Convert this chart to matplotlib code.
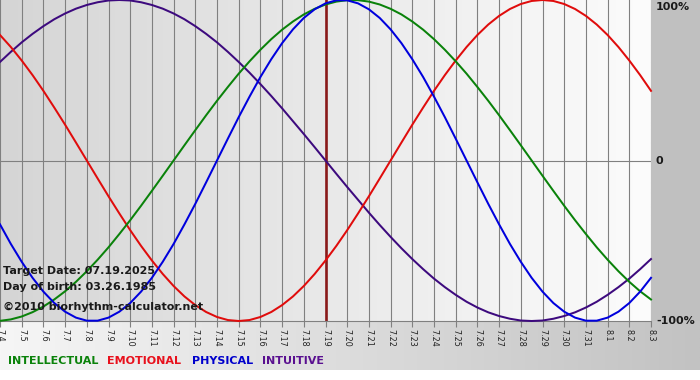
#!/usr/bin/env python3
import numpy as np
import matplotlib
matplotlib.use('Agg')
from matplotlib import pyplot as plt
from matplotlib.colors import LinearSegmentedColormap

# day labels 7.4 .. 8.3
days = ['7.4', '7.5', '7.6', '7.7', '7.8', '7.9', '7.10', '7.11', '7.12', '7.13',
        '7.14', '7.15', '7.16', '7.17', '7.18', '7.19', '7.20', '7.21', '7.22', '7.23',
        '7.24', '7.25', '7.26', '7.27', '7.28', '7.29', '7.30', '7.31', '8.1', '8.2', '8.3']

# values in percent, read every half day from 7.4 to 8.3
intellectual = [-99.9, -99.0, -97.2, -94.5, -91.0, -86.6, -81.5, -75.6, -69.0, -61.8, -54.1,
                -45.8, -37.2, -28.2, -18.9, -9.5, 0,
                9.5, 18.9, 28.2, 37.2, 45.8, 54.1, 61.8, 69.0, 75.6, 81.5, 86.6, 91.0, 94.5,
                97.2, 99.0, 99.9, 99.9, 99.0, 97.2, 94.5, 91.0, 86.6, 81.5, 75.6, 69.0, 61.8,
                54.1, 45.8, 37.2, 28.2, 18.9, 9.5, 0,
                -9.5, -18.9, -28.2, -37.2, -45.8, -54.1, -61.8, -69.0, -75.6, -81.5, -86.6]
emotional = [78.2, 70.7, 62.3, 53.2, 43.4, 33.0, 22.3, 11.2, 0, -11.2, -22.3, -33.0, -43.4,
             -53.2, -62.3, -70.7, -78.2, -84.7, -90.1, -94.4, -97.5, -99.4, -100, -99.4, -97.5,
             -94.4, -90.1, -84.7, -78.2, -70.7, -62.3, -53.2, -43.4, -33.0, -22.3, -11.2, 0,
             11.2, 22.3, 33.0, 43.4, 53.2, 62.3, 70.7, 78.2, 84.7, 90.1, 94.4, 97.5, 99.4, 100,
             99.4, 97.5, 94.4, 90.1, 84.7, 78.2, 70.7, 62.3, 53.2, 43.4]
physical = [-39.8, -52.0, -63.1, -73.1, -81.7, -88.8, -94.2, -97.9, -99.8, -99.8, -97.9,
            -94.2, -88.8, -81.7, -73.1, -63.1, -52.0, -39.8, -27.0, -13.6, 0,
            13.6, 27.0, 39.8, 52.0, 63.1, 73.1, 81.7, 88.8, 94.2, 97.9, 99.8, 99.8, 97.9,
            94.2, 88.8, 81.7, 73.1, 63.1, 52.0, 39.8, 27.0, 13.6, 0, -13.6, -27.0, -39.8,
            -52.0, -63.1, -73.1, -81.7, -88.8, -94.2, -97.9, -99.8, -99.8, -97.9, -94.2,
            -88.8, -81.7, -73.1]
intuitive = [61.4, 67.7, 73.6, 78.9, 83.7, 88.0, 91.6, 94.6, 96.9, 98.6, 99.7, 100, 99.7,
             98.6, 96.9, 94.6, 91.6, 88.0, 83.7, 78.9, 73.6, 67.7, 61.4, 54.7, 47.6, 40.2,
             32.5, 24.5, 16.5, 8.3, 0,
             -8.3, -16.5, -24.5, -32.5, -40.2, -47.6, -54.7, -61.4, -67.7, -73.6, -78.9,
             -83.7, -88.0, -91.6, -94.6, -96.9, -98.6, -99.7, -100, -99.7, -98.6, -96.9,
             -94.6, -91.6, -88.0, -83.7, -78.9, -73.6, -67.7, -61.4]

target_day = '7.19'
target_text = 'Target Date: 07.19.2025'
birth_text = 'Day of birth: 03.26.1985'
site_text = '\u00a92010 biorhythm-calculator.net'

W, H = 700, 380
PL, PR, PB = 0, 651, 321   # plot area in pixels


def px(x, y):
    return x / W, 1 - y / H


fig = plt.figure(figsize=(W / 100, H / 100), dpi=100)
fig.patch.set_facecolor('white')

#%% background panels
bg = fig.add_axes([0, 0, 1, 1], zorder=0)
ramp = np.linspace(0, 1, 256)[None, :]
bg.imshow(ramp, extent=[PL, PR, PB, 0], aspect='auto',
          cmap=LinearSegmentedColormap.from_list('plot', ['#d5d5d5', '#e9e9e9', '#fcfcfc']))
bg.imshow(ramp, extent=[0, W, 370, PB], aspect='auto',
          cmap=LinearSegmentedColormap.from_list('band', ['#f6f6f6', '#c2c2c2']))
bg.add_patch(plt.Rectangle((PR, 0), W - PR, PB, color='#c0c0c0', lw=0))
bg.set_xlim(0, W)
bg.set_ylim(H, 0)
bg.axis('off')

#%% chart
ax = fig.add_axes([PL / W, 1 - PB / H, (PR - PL) / W, PB / H], zorder=1)
ax.set_facecolor('none')
x = np.arange(len(days))
ax.set_xlim(0, len(days) - 1)
ax.set_ylim(-100, 100)

ax.set_xticks(x)
ax.set_xticklabels(days, rotation=-90, fontsize=5.8, color='#222222')
ax.tick_params(axis='x', length=4, width=0.8, color='#808080', pad=1.5)
ax.set_yticks([])
ax.grid(axis='x', color='#808080', lw=0.8)
ax.axhline(0, color='#808080', lw=0.8, zorder=1)
for s in ['left', 'top', 'right']:
    ax.spines[s].set_visible(False)
ax.spines['bottom'].set_color('#808080')
ax.spines['bottom'].set_linewidth(0.8)

ax.axvline(days.index(target_day), color='#8a1a1a', lw=1.9, zorder=2)

# samples are half a day apart
t = np.arange(len(physical)) / 2
lw = 1.45
ax.plot(t, intuitive, color='#3d0a7e', lw=lw, zorder=3, clip_on=False)
ax.plot(t, emotional, color='#e00c0c', lw=lw, zorder=3, clip_on=False)
ax.plot(t, intellectual, color='#0a820a', lw=lw, zorder=3, clip_on=False)
ax.plot(t, physical, color='#0000dd', lw=lw, zorder=4, clip_on=False)

#%% texts
bold = dict(fontsize=8, fontweight='bold', color='#1a1a1a', va='center', ha='left')
fig.text(*px(3, 271), target_text, **bold)
fig.text(*px(3, 287), birth_text, **bold)
fig.text(*px(3, 307), site_text, **bold)

fig.text(*px(656, 7), '100%', **bold)
fig.text(*px(656, 161), '0', **bold)
fig.text(*px(656, 321), '-100%', **bold)

legend = [('INTELLECTUAL', '#0a820a', 8), ('EMOTIONAL', '#e8101c', 107),
          ('PHYSICAL', '#0000cc', 192), ('INTUITIVE', '#5a1090', 262)]
for name, col, lx in legend:
    fig.text(*px(lx, 361), name, fontsize=8, fontweight='bold', color=col,
             va='center', ha='left')

fig.savefig('out.png', dpi=100)
